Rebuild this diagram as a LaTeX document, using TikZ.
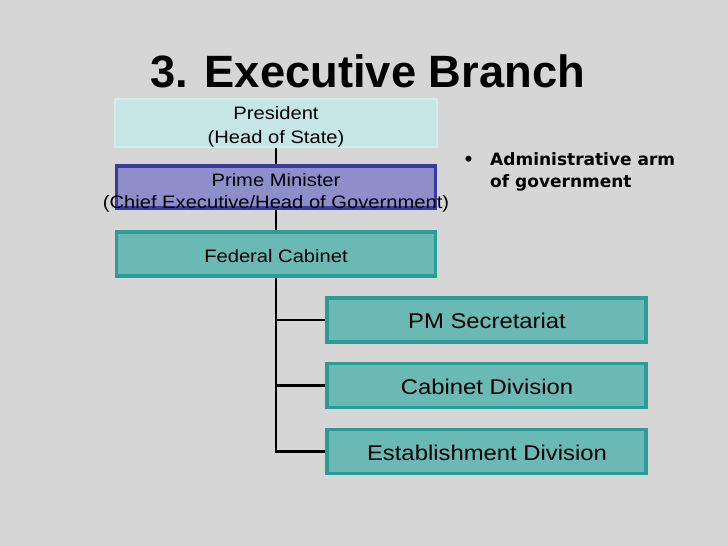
\documentclass[tikz,border=0pt]{standalone}
\usepackage{fontspec}
\setmainfont{Liberation Sans}
\newfontfamily\boxfont[FakeStretch=1.12]{Liberation Sans}
\newfontfamily\titlefont{Liberation Sans}
\newfontfamily\bulletfont{DejaVu Sans}
\usetikzlibrary{backgrounds}
\definecolor{bggray}{HTML}{D6D6D6}
\definecolor{presfill}{HTML}{C6E5E5}
\definecolor{presline}{HTML}{D3ECEC}
\definecolor{pmfill}{HTML}{8E8ECA}
\definecolor{pmline}{HTML}{3B3B9E}
\definecolor{tealfill}{HTML}{6BB9B5}
\definecolor{tealline}{HTML}{2B9C96}
\tikzset{
  presbox/.style={draw=presline, line width=2pt, fill=presfill, minimum width=322pt, minimum height=48pt, inner sep=0pt},
  pmbox/.style={draw=pmline, line width=3.5pt, fill=pmfill, minimum width=319pt, minimum height=42pt, inner sep=0pt},
  tealbox/.style={draw=tealline, line width=3.5pt, fill=tealfill, minimum width=319pt, minimum height=44pt, inner sep=0pt},
  smalltxt/.style={inner sep=0pt, anchor=base, font=\boxfont\fontsize{18}{22}\selectfont},
  bigtxt/.style={inner sep=0pt, anchor=base, font=\boxfont\fontsize{21.3}{25}\selectfont},
  bullettxt/.style={inner sep=0pt, anchor=base west, font=\bulletfont\bfseries\fontsize{17}{21}\selectfont},
  trunk/.style={line width=2.8pt, black}
}
\begin{document}
\begin{tikzpicture}[x=1pt, y=-1pt]
\useasboundingbox (0,0) rectangle (728,546);
% boxes
\node[presbox] (pres) at (276,123) {};
\node[pmbox] (pm) at (276,187) {};
\node[tealbox] (fed) at (276,254) {};
\node[tealbox] (sec) at (486.5,320) {};
\node[tealbox] (cab) at (486.5,385.5) {};
\node[tealbox] (est) at (486.5,451.5) {};
% background and connectors
\begin{scope}[on background layer]
  \fill[bggray] (0,0) rectangle (728,546);
  \coordinate (trunkend) at (pres.south |- est.west);
  \draw[trunk] (pres.south) -- (trunkend) -- (est.west);
  \draw[trunk] (pres.south |- sec.west) -- (sec.west);
  \draw[trunk] (pres.south |- cab.west) -- (cab.west);
\end{scope}
% title
\node[inner sep=0pt, anchor=base west, font=\titlefont\bfseries\fontsize{45.3}{50}\selectfont] (title) at (150,87) {3. Executive Branch};
% box texts
\node[smalltxt] (presA) at (276,119) {President};
\node[smalltxt] (presB) at (276,143) {(Head of State)};
\node[smalltxt] (pmA) at (276,186) {Prime Minister};
\node[smalltxt] (pmB) at (276,208) {(Chief Executive/Head of Government)};
\node[smalltxt] (fedA) at (276,262) {Federal Cabinet};
\node[bigtxt] (secA) at (487,328) {PM Secretariat};
\node[bigtxt] (cabA) at (487,394) {Cabinet Division};
\node[bigtxt] (estA) at (487,460) {Establishment Division};
% bullet
\node[bullettxt] (dot) at (463,165) {•};
\node[bullettxt] (bulA) at (490,165) {Administrative arm};
\node[bullettxt] (bulB) at (490,187) {of government};
\end{tikzpicture}
\end{document}
